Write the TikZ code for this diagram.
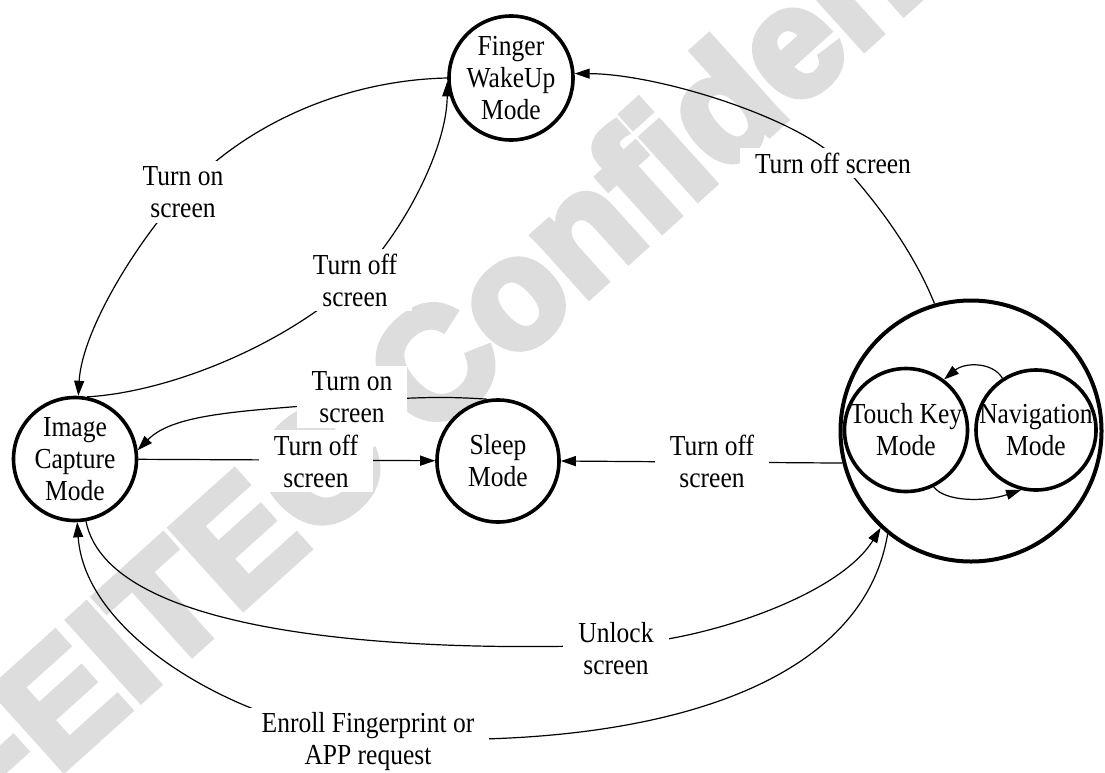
\documentclass[tikz,border=0pt]{standalone}
\usepackage{fontspec}
\setmainfont{Liberation Serif}[FakeStretch=0.88]
\newfontfamily\wmfont{Liberation Sans}[BoldFeatures={FakeBold=5}]
\usetikzlibrary{arrows.meta}
\definecolor{wm}{RGB}{221,221,221}
\begin{document}
\begin{tikzpicture}[x=1pt,y=-1pt,
  every node/.style={font=\fontsize{29}{32}\selectfont},
  state/.style={circle, draw, line width=3.6pt, fill=white, inner sep=0pt, minimum size=123pt},
  lbl/.style={fill=white, align=center, inner xsep=15pt, inner ysep=5pt},
  conn/.style={line width=1.2pt, -{Triangle[length=15pt,width=10pt]}},
  nlab/.style={align=center}]
\useasboundingbox (0,0) rectangle (1105,772);
% watermark
\begin{scope}
\clip (0,0) rectangle (1105,772);
\node[text=wm, rotate=42, inner sep=0pt, anchor=base west, font=\fontsize{155}{155}\wmfont\bfseries] (wmk) at (-14,839) {FEITEC Confidential};
\end{scope}
% states
\node[state, minimum size=124pt, label={[nlab]center:{Finger\\WakeUp\\Mode}}] (fw) at (511,78) {};
\node[state, label={[nlab]center:{Image\\Capture\\Mode}}] (ic) at (75,459) {};
\node[state, minimum size=122pt, label={[nlab]center:{Sleep\\Mode}}] (sl) at (498,461) {};
\node[state, minimum size=261pt, line width=4pt] (big) at (971,431) {};
\node[state, label={[nlab]center:{Touch Key\\Mode}}] (tk) at (906,430) {};
\node[state, minimum size=120pt, label={[nlab]center:{Navigation\\Mode}}] (nv) at (1036,430) {};
% via points
\coordinate (v1) at (183,192);
\coordinate (v2) at (355,280);
\coordinate (v3) at (839,161);
\coordinate (v4) at (352,402);
\coordinate (v7) at (615,645);
\coordinate (v8) at (370,737);
% connectors
\draw[conn] (fw.180) .. controls (350,80) and (250,120) .. (v1) .. controls (138,240) and (82,330) .. (ic.87);
\draw[conn] (ic.79) .. controls (170,392) and (285,345) .. (v2) .. controls (400,238) and (447,150) .. (fw.183);
\draw[conn] (big.106) .. controls (915,255) and (880,205) .. (v3) .. controls (800,119) and (660,74) .. (fw.4);
\draw[conn] (sl.100) .. controls (455,397) and (420,396) .. (v4) .. controls (250,411) and (175,412) .. (ic.8);
\draw[conn] (ic) -- (sl);
\draw[conn] (big.194) -- (sl.east);
\draw[conn] (ic.280) .. controls (110,640) and (420,652) .. (v7) .. controls (700,642) and (838,597) .. (big.227);
\draw[conn] (big.231) .. controls (860,700) and (620,752) .. (v8) .. controls (250,729) and (85,640) .. (ic.272);
\draw[conn] (tk.296) .. controls (945,502) and (985,502) .. (nv.256);
\draw[conn] (nv.123) .. controls (993,362) and (965,362) .. (tk.53);
% labels
\node[lbl] (l1) at (183,192) {Turn on\\screen};
\node[lbl] (l2) at (355,280) {Turn off\\screen};
\node[lbl] (l3) at (833,163) {Turn off screen};
\node[lbl] (l4) at (352,397) {Turn on\\screen};
\node[lbl] (l5) at (316,461) {Turn off\\screen};
\node[lbl] (l6) at (712,461) {Turn off\\screen};
\node[lbl] (l7) at (616,649) {Unlock\\screen};
\node[lbl] (l8) at (368,742) {Enroll Fingerprint or\\APP request};
\end{tikzpicture}
\end{document}
